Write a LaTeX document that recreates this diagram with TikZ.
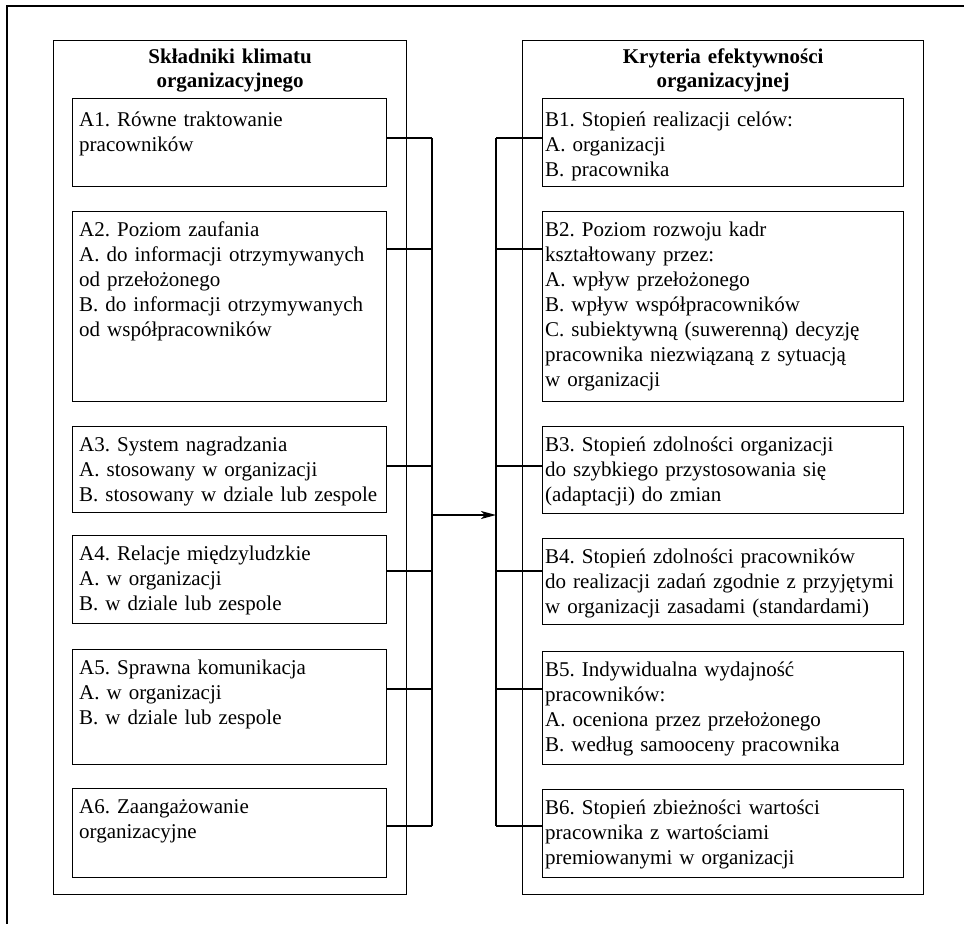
\documentclass[tikz,border=0pt]{standalone}
\usepackage{fontspec}
\setmainfont{Liberation Serif}
\usetikzlibrary{arrows.meta}
\frenchspacing

\tikzset{
    panel/.style     = {draw, line width=1.3pt, anchor=north west, inner sep=0pt, minimum height=854pt},
    item/.style      = {draw, line width=1.3pt, anchor=north west, inner sep=0pt},
    itemtext/.style  = {anchor=base west, inner sep=0pt, align=left, text width=380pt,
                        font=\fontsize{21}{25}\selectfont},
    paneltitle/.style= {anchor=base, inner sep=0pt, align=center, text width=320pt,
                        font=\fontsize{21}{24}\selectfont\bfseries},
}

\begin{document}
\begin{tikzpicture}[x=1pt,y=-1pt]
    \useasboundingbox (0,0) rectangle (964,924);

    \draw [line width=1.8pt] (964,6) -- (7,6) -- (7,924);

    % left panel
    \node (lpanel) [panel, minimum width=353pt] at (53,40) {};
    \node (ltitle) [paneltitle] at ([yshift=-23pt]lpanel.north) {Składniki klimatu\\organizacyjnego};

    \node (a1) [item, minimum width=314pt, minimum height=88pt]  at (72,98)  {};
    \node (a2) [item, minimum width=314pt, minimum height=190pt] at (72,211) {};
    \node (a3) [item, minimum width=314pt, minimum height=86pt]  at (72,426) {};
    \node (a4) [item, minimum width=314pt, minimum height=88pt]  at (72,535) {};
    \node (a5) [item, minimum width=314pt, minimum height=115pt] at (72,649) {};
    \node (a6) [item, minimum width=314pt, minimum height=89pt]  at (72,788) {};

    \node (a1t) [itemtext] at ([shift={(7pt,-28pt)}]a1.north west) {A1. Równe traktowanie\\pracowników};
    \node (a2t) [itemtext] at ([shift={(7pt,-25pt)}]a2.north west) {A2. Poziom zaufania\\A. do informacji otrzymywanych\\od przełożonego\\B. do informacji otrzymywanych\\od współpracowników};
    \node (a3t) [itemtext] at ([shift={(7pt,-25pt)}]a3.north west) {A3. System nagradzania\\A. stosowany w organizacji\\B. stosowany w dziale lub zespole};
    \node (a4t) [itemtext] at ([shift={(7pt,-25pt)}]a4.north west) {A4. Relacje międzyludzkie\\A. w organizacji\\B. w dziale lub zespole};
    \node (a5t) [itemtext] at ([shift={(7pt,-25pt)}]a5.north west) {A5. Sprawna komunikacja\\A. w organizacji\\B. w dziale lub zespole};
    \node (a6t) [itemtext] at ([shift={(7pt,-25pt)}]a6.north west) {A6. Zaangażowanie\\organizacyjne};

    % right panel
    \node (rpanel) [panel, minimum width=401pt] at (522,40) {};
    \node (rtitle) [paneltitle] at ([yshift=-23pt]rpanel.north) {Kryteria efektywności\\organizacyjnej};

    \node (b1) [item, minimum width=361pt, minimum height=88pt]  at (542,98)  {};
    \node (b2) [item, minimum width=361pt, minimum height=190pt] at (542,211) {};
    \node (b3) [item, minimum width=361pt, minimum height=87pt]  at (542,426) {};
    \node (b4) [item, minimum width=361pt, minimum height=86pt]  at (542,538) {};
    \node (b5) [item, minimum width=361pt, minimum height=113pt] at (542,651) {};
    \node (b6) [item, minimum width=361pt, minimum height=88pt]  at (542,789) {};

    \node (b1t) [itemtext] at ([shift={(3pt,-28pt)}]b1.north west) {B1. Stopień realizacji celów:\\A. organizacji\\B. pracownika};
    \node (b2t) [itemtext] at ([shift={(3pt,-25pt)}]b2.north west) {B2. Poziom rozwoju kadr\\kształtowany przez:\\A. wpływ przełożonego\\B. wpływ współpracowników\\C. subiektywną (suwerenną) decyzję\\pracownika niezwiązaną z sytuacją\\w organizacji};
    \node (b3t) [itemtext] at ([shift={(3pt,-25pt)}]b3.north west) {B3. Stopień zdolności organizacji\\do szybkiego przystosowania się\\(adaptacji) do zmian};
    \node (b4t) [itemtext] at ([shift={(3pt,-25pt)}]b4.north west) {B4. Stopień zdolności pracowników\\do realizacji zadań zgodnie z przyjętymi\\w organizacji zasadami (standardami)};
    \node (b5t) [itemtext] at ([shift={(3pt,-25pt)}]b5.north west) {B5. Indywidualna wydajność\\pracowników:\\A. oceniona przez przełożonego\\B. według samooceny pracownika};
    \node (b6t) [itemtext] at ([shift={(3pt,-25pt)}]b6.north west) {B6. Stopień zbieżności wartości\\pracownika z wartościami\\premiowanymi w organizacji};

    % links
    \begin{scope}[line width=1.3pt]
        \coordinate (lbus) at (432,0);
        \coordinate (rbus) at (496,0);

        \foreach \n/\y in {1/138,2/249,3/466,4/571,5/689,6/826}{%
            \draw (a\n.east |- 0,\y) -- (lbus |- 0,\y);
            \draw (b\n.west |- 0,\y) -- (rbus |- 0,\y);
        }
        \draw (lbus |- 0,138) -- (lbus |- 0,826);
        \draw (rbus |- 0,138) -- (rbus |- 0,826);

        \draw [-{Stealth[length=15pt,width=8pt,inset=4pt]}] (lbus |- 0,515) -- (rbus |- 0,515);
    \end{scope}

\end{tikzpicture}
\end{document}
